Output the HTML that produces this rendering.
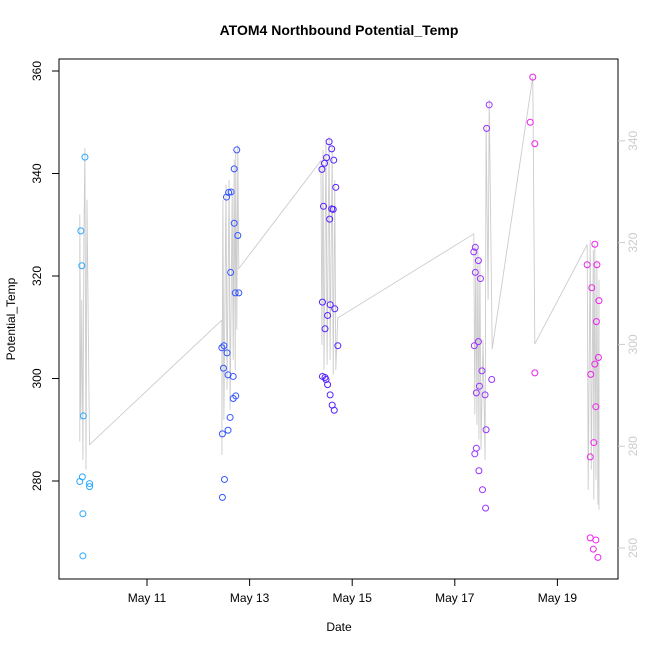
<!DOCTYPE html>
<html><head><meta charset="utf-8"><style>
body{margin:0;background:#fff}
svg{display:block;font-family:"Liberation Sans",sans-serif}
</style></head><body>
<svg id="c" width="650" height="650"></svg>
<script>
const ptDays=[9.79,9.71,9.73,9.76,9.74,9.69,9.88,9.88,9.75,9.75,
12.75,12.70,12.64,12.59,12.55,12.70,12.77,12.63,12.72,12.79,12.50,12.46,12.56,12.49,12.58,12.68,12.73,12.68,12.62,12.58,12.47,12.51,12.47,
14.55,14.60,14.50,14.64,14.46,14.41,14.68,14.44,14.60,14.63,14.56,14.42,14.57,14.66,14.52,14.47,14.72,14.42,14.47,14.49,14.52,14.57,14.61,14.65,
17.62,17.67,17.40,17.37,17.46,17.40,17.50,17.46,17.38,17.53,17.72,17.48,17.42,17.59,17.61,17.42,17.39,17.47,17.54,17.60,
18.52,18.47,18.56,18.56,
19.73,19.58,19.77,19.67,19.81,19.76,19.80,19.73,19.65,19.75,19.71,19.64,19.64,19.75,19.70,19.79];
const ptVals=[343.2,328.8,322.0,292.7,280.8,279.9,279.5,278.9,273.6,265.4,
344.6,340.9,336.4,336.3,335.4,330.3,327.9,320.7,316.7,316.7,306.4,306.0,305.0,302.0,300.7,300.4,296.6,296.1,292.4,289.9,289.2,280.3,276.8,
346.2,344.8,343.1,342.6,342.0,340.8,337.3,333.6,333.1,333.0,331.1,314.9,314.4,313.6,312.3,309.7,306.4,300.4,300.2,299.8,298.8,296.8,294.8,293.8,
348.8,353.4,325.6,324.7,323.0,320.7,319.5,307.2,306.4,301.5,299.8,298.5,297.2,296.8,290.0,286.4,285.3,282.0,278.3,274.7,
358.8,350.0,345.8,301.1,
326.2,322.2,322.2,317.7,315.2,311.1,304.1,302.8,300.8,294.5,287.5,284.7,268.9,268.5,266.7,265.1];
const lineDays=[9.69,9.69,9.71,9.73,9.75,9.77,9.79,9.81,9.83,9.88,12.46,12.46,12.48,12.50,12.54,12.56,12.60,12.62,12.66,12.68,12.70,12.72,12.73,12.75,12.77,12.79,14.39,14.41,14.43,14.45,14.49,14.51,14.55,14.57,14.61,14.63,14.66,14.68,14.72,17.37,17.39,17.41,17.43,17.45,17.47,17.49,17.51,17.55,17.59,17.61,17.65,17.67,17.73,18.52,18.56,19.58,19.60,19.64,19.66,19.70,19.71,19.73,19.75,19.77,19.79,19.81,19.81];
const lineVals=[280.9,325.5,285.2,308.8,277.3,320.5,338.6,275.4,328.4,280.3,304.8,278.3,328.4,285.2,331.4,291.1,332.3,287.2,330.4,297.0,336.3,295.0,338.2,302.9,339.2,314.9,336.1,299.9,338.2,295.0,340.2,296.0,340.8,297.0,339.2,294.0,332.3,295.0,305.2,321.7,286.2,319.6,284.2,318.6,281.3,316.6,279.3,300.9,277.3,343.1,308.8,348.1,299.1,352.6,300.1,319.6,271.4,320.5,275.4,318.6,269.5,319.6,273.4,316.6,268.5,312.7,267.5];
const leftTicks=[280,300,320,340,360];
const rightTicks=[260,280,300,320,340];
const xTickDays=[11,13,15,17,19];
const xTickLabels=["May 11","May 13","May 15","May 17","May 19"];

const X=d=>147+(d-11)*51.3, YL=v=>481-(v-280)*5.125, YR=v=>548-(v-260)*5.09;
const svg=document.getElementById('c'), NS='http://www.w3.org/2000/svg';
function mk(t,a,p){const e=document.createElementNS(NS,t);for(const k in a)e.setAttribute(k,a[k]);(p||svg).appendChild(e);return e;}
function col(d){if(d<11)return'#2aa8ff';if(d<13.5)return'#3355ff';if(d<16)return'#5522ff';if(d<18.2)return'#9933ff';return'#ee22ee';}

let pts=lineDays.map((d,i)=>X(d).toFixed(1)+','+YR(lineVals[i]).toFixed(1)).join(' ');
const pl=mk('polyline',{points:pts,fill:'none',stroke:'#cccccc','stroke-width':0.9});



ptDays.forEach((d,i)=>{
 const c=mk('circle',{cx:X(d),cy:YL(ptVals[i]),r:3,fill:'none',stroke:col(d),'stroke-width':1});
 
 
});

const b=mk('rect',{x:59,y:59,width:559,height:520,fill:'none',stroke:'#000','stroke-width':1});



leftTicks.forEach(v=>{
 const y=YL(v);
 mk('line',{x1:52,x2:59,y1:y,y2:y,stroke:'#000'});
 const t=mk('text',{x:0,y:0,'font-size':12,'text-anchor':'middle',transform:`translate(41,${y}) rotate(-90)`});
 t.textContent=v;
 
 
});
rightTicks.forEach(v=>{
 const y=YR(v);
 mk('line',{x1:618,x2:625,y1:y,y2:y,stroke:'#ccc'});
 const t=mk('text',{x:0,y:0,'font-size':12,fill:'#ccc','text-anchor':'middle',transform:`translate(637,${y}) rotate(-90)`});
 t.textContent=v;
 
 
});
xTickDays.forEach((d,i)=>{
 const x=X(d);
 mk('line',{x1:x,x2:x,y1:579,y2:586,stroke:'#000'});
 const t=mk('text',{x:x,y:602,'font-size':12,'text-anchor':'middle'});
 t.textContent=xTickLabels[i];
 
 
});
const ti=mk('text',{x:339,y:35,'font-size':14,'font-weight':'bold','text-anchor':'middle'});
ti.textContent='ATOM4 Northbound Potential_Temp';


const xl=mk('text',{x:339,y:631,'font-size':12,'text-anchor':'middle'});
xl.textContent='Date';


const yl=mk('text',{x:0,y:0,'font-size':12,'text-anchor':'middle',transform:'translate(15,319) rotate(-90)'});
yl.textContent='Potential_Temp';


</script>
</body></html>
